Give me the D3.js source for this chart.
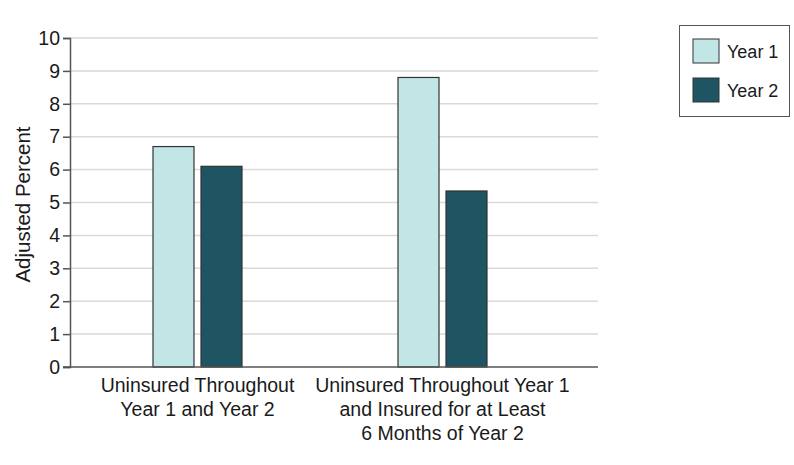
<!DOCTYPE html>
<html>
<head>
<meta charset="utf-8">
<script src="https://cdn.jsdelivr.net/npm/d3@7"></script>
<style>
  body { margin: 0; background: #fff; }
  svg text { font-family: "Liberation Sans", Arial, sans-serif; fill: #1a1a1a; }
</style>
</head>
<body>
<svg id="chart" width="794" height="465"></svg>
<script>
// chart data
var categories = [
    ["Uninsured Throughout", "Year 1 and Year 2"],
    ["Uninsured Throughout Year 1", "and Insured for at Least", "6 Months of Year 2"]
];
var seriesNames = ["Year 1", "Year 2"];
var year1 = [6.7, 8.8];
var year2 = [6.1, 5.35];
var yTicks = [0, 1, 2, 3, 4, 5, 6, 7, 8, 9, 10];
var colors = ["#c2e6e5", "#1f5463"];

var svg = d3.select("#chart");

var plotLeft = 70, plotRight = 598, plotTop = 38, plotBottom = 367;

var y = d3.scaleLinear().domain([0, 10]).range([plotBottom, plotTop]);
var x0 = d3.scaleBand().domain(d3.range(categories.length)).range([75, 565]);
var x1 = d3.scaleBand().domain(seriesNames).range([-44.5, 44.5])
    .paddingInner(2 - 89 / 48).paddingOuter(0);

// gridlines
svg.append("g").selectAll("line")
    .data(yTicks.filter(function(d) { return d > 0; }))
    .enter().append("line")
    .attr("x1", plotLeft).attr("x2", plotRight)
    .attr("y1", function(d) { return y(d); })
    .attr("y2", function(d) { return y(d); })
    .attr("stroke", "#d9d9d9")
    .attr("stroke-width", 1.5);

// bars
var rows = categories.map(function(c, i) {
    return [{ s: seriesNames[0], v: year1[i], c: 0 }, { s: seriesNames[1], v: year2[i], c: 1 }];
});
var groups = svg.append("g").selectAll("g")
    .data(rows)
    .enter().append("g")
    .attr("transform", function(d, i) { return "translate(" + (x0(i) + x0.bandwidth() / 2) + ",0)"; });

groups.selectAll("rect")
    .data(function(d) { return d; })
    .enter().append("rect")
    .attr("x", function(d) { return x1(d.s); })
    .attr("width", x1.bandwidth())
    .attr("y", function(d) { return y(d.v); })
    .attr("height", function(d) { return y(0) - y(d.v); })
    .attr("fill", function(d) { return colors[d.c]; })
    .attr("stroke", "#333")
    .attr("stroke-width", 1.2);

// y axis
var yAxis = d3.axisLeft(y).tickValues(yTicks).tickSize(7).tickPadding(3);
var gy = svg.append("g").attr("transform", "translate(" + plotLeft + ",0)").call(yAxis);
gy.select(".domain").attr("stroke", "#555").attr("stroke-width", 1.5);
gy.selectAll(".tick line").attr("stroke", "#555").attr("stroke-width", 1.5);
gy.selectAll(".tick text").style("font-size", "19.5px").attr("fill", "#1a1a1a")
    .style("font-family", "'Liberation Sans', Arial, sans-serif");

// baseline
svg.append("line")
    .attr("x1", plotLeft - 7).attr("x2", plotRight)
    .attr("y1", y(0)).attr("y2", y(0))
    .attr("stroke", "#555").attr("stroke-width", 1.5);

// y label
svg.append("text")
    .attr("transform", "translate(30," + ((plotTop + plotBottom) / 2 + 2) + ") rotate(-90)")
    .attr("text-anchor", "middle")
    .style("font-size", "20.5px")
    .text("Adjusted Percent");

// x labels
var lbl = svg.append("g").selectAll("text")
    .data(categories)
    .enter().append("text")
    .attr("text-anchor", "middle")
    .style("font-size", "19.5px")
    .attr("x", function(d, i) { return x0(i) + x0.bandwidth() / 2; })
    .attr("y", 392);
lbl.selectAll("tspan")
    .data(function(d) { return d; })
    .enter().append("tspan")
    .attr("x", function() { return d3.select(this.parentNode).attr("x"); })
    .attr("dy", function(d, i) { return i === 0 ? 0 : 24; })
    .text(function(d) { return d; });

// legend
var lg = svg.append("g");
lg.append("rect")
    .attr("x", 679.5).attr("y", 25.5).attr("width", 110).attr("height", 91)
    .attr("fill", "#fff").attr("stroke", "#555").attr("stroke-width", 1);
var items = lg.selectAll("g.item")
    .data(seriesNames)
    .enter().append("g")
    .attr("transform", function(d, i) { return "translate(693," + (39 + i * 39) + ")"; });
items.append("rect")
    .attr("width", 26).attr("height", 24)
    .attr("fill", function(d, i) { return colors[i]; })
    .attr("stroke", "#333").attr("stroke-width", 1);
items.append("text")
    .attr("x", 34).attr("y", 19)
    .style("font-size", "18px")
    .text(function(d) { return d; });
</script>
</body>
</html>
